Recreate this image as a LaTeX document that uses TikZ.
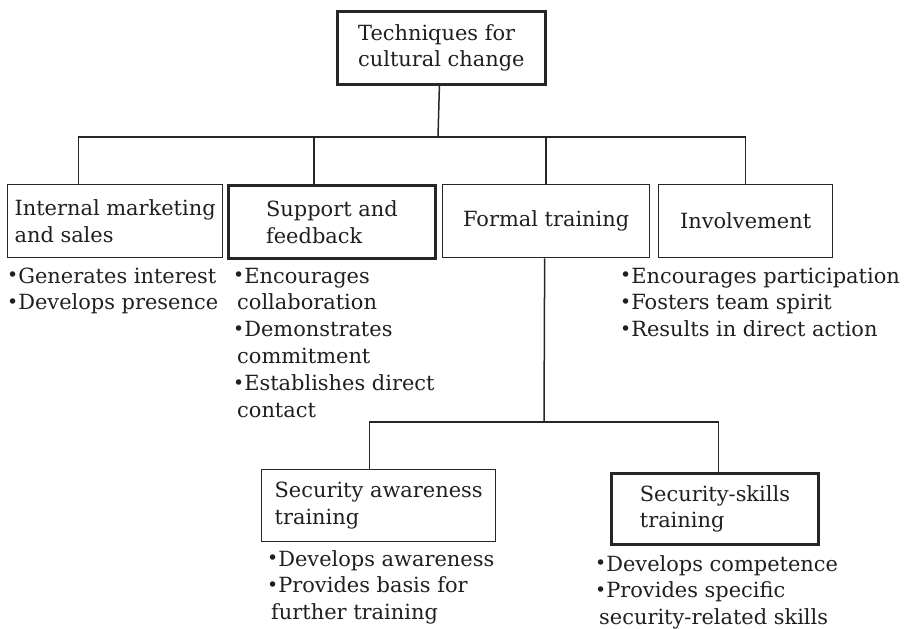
\documentclass[tikz,border=0pt]{standalone}
\usepackage{fontspec}
\setmainfont{DejaVu Serif}
\newcommand{\itemdot}{\raisebox{0.06em}{\scalebox{0.9}{•}}}
\begin{document}
\begin{tikzpicture}[x=1bp,y=-1bp,
  every node/.style={font=\fontsize{21}{27}\selectfont, text=black!88},
  box/.style={draw=black!85, line width=1.3bp, rectangle, align=left,
    inner sep=0pt, anchor=north west},
  heavybox/.style={box, line width=2.8bp},
  notes/.style={align=left, inner sep=0pt, anchor=north west},
  link/.style={draw=black!85, line width=1.5bp}]
  \useasboundingbox (0,0) rectangle (911,629);

  % top
  \node[heavybox, minimum width=208bp, minimum height=73bp] (top) at (336,10)
    {Techniques for\\cultural change};

  % second level
  \node[box, minimum width=215bp, minimum height=73bp] (mkt) at (7,184)
    {Internal marketing\\and sales};
  \node[heavybox, minimum width=207bp, minimum height=73bp] (sup) at (227,184)
    {Support and\\feedback};
  \node[box, minimum width=207bp, minimum height=73bp] (frm) at (442,184)
    {Formal training};
  \node[box, minimum width=174bp, minimum height=73bp] (inv) at (658,184)
    {Involvement};

  % third level
  \node[box, minimum width=234bp, minimum height=72bp] (awr) at (261,469)
    {Security awareness\\training};
  \node[heavybox, minimum width=207bp, minimum height=71bp] (skl) at (610,472)
    {Security-skills\\training};

  % bullet notes (a strut fixes the first baseline 19bp below the top)
  \node[notes] (nmkt) at (7,264)
    {\strut\itemdot Generates interest\\\itemdot Develops presence};
  \node[notes] (nsup) at (233,264)
    {\strut\itemdot Encourages\\\hspace{4bp}collaboration\\\itemdot Demonstrates\\
     \hspace{4bp}commitment\\\itemdot Establishes direct\\\hspace{4bp}contact};
  \node[notes] (ninv) at (620,264)
    {\strut\itemdot Encourages participation\\\itemdot Fosters team spirit\\
     \itemdot Results in direct action};
  \node[notes] (nawr) at (267,547)
    {\strut\itemdot Develops awareness\\\itemdot Provides basis for\\
     \hspace{4bp}further training};
  \node[notes] (nskl) at (595,552)
    {\strut\itemdot Develops competence\\\itemdot Provides specific\\
     \hspace{4bp}security-related skills};

  % connectors
  \coordinate (bus) at (438,137);
  \coordinate (bus2) at (544,422);
  \draw[link] ([xshift=-2bp]top.south) -- (bus);
  \draw[link] ([xshift=-36.5bp]mkt.north) -- ([xshift=-36.5bp]mkt.north |- bus)
    -- (inv.north |- bus) -- (inv.north);
  \draw[link] ([xshift=-18bp]sup.north) -- ([xshift=-18bp]sup.north |- bus);
  \draw[link] (frm.north) -- (frm.north |- bus);
  \draw[link] ([xshift=-1.5bp]frm.south) -- (bus2);
  \draw[link] ([xshift=-9bp]awr.north) -- ([xshift=-9bp]awr.north |- bus2)
    -- ([xshift=3.5bp]skl.north |- bus2) -- ([xshift=3.5bp]skl.north);
\end{tikzpicture}
\end{document}
